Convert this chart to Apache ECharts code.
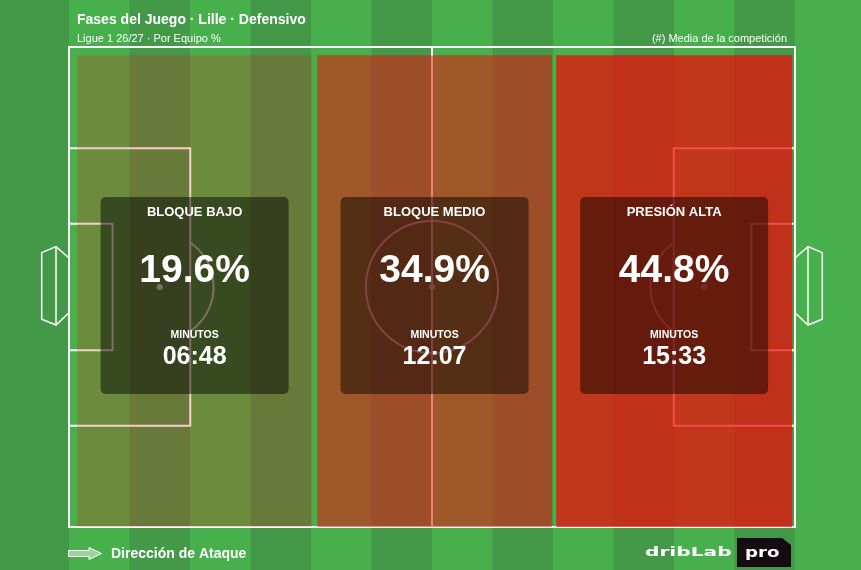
<!DOCTYPE html>
<html><head><meta charset="utf-8">
<script src="https://cdn.jsdelivr.net/npm/echarts@6/dist/echarts.min.js"></script>
<style>html,body{margin:0;padding:0;background:#47b04c}#c{width:861px;height:570px}</style>
</head><body><div id="c"></div>
<script>
// ---- data ----
const zoneLabels = ['BLOQUE BAJO', 'BLOQUE MEDIO', 'PRESIÓN ALTA'];
const zonePct = [19.6, 34.9, 44.8];
const zoneMinutes = ['06:48', '12:07', '15:33'];
const zoneStart = [1.1, 34.2, 67.1];   // pitch x (0-100) where each third begins
const zoneEnd = [33.5, 66.5, 99.6];    // pitch x where each third ends
const titleText = 'Fases del Juego · Lille · Defensivo';
const subtitleText = 'Ligue 1 26/27 · Por Equipo %';
const noteText = '(#) Media de la competición';
const attackText = 'Dirección de Ataque';
const stripeIndex = [-1, 0, 1, 2, 3, 4, 5, 6, 7, 8, 9, 10, 11, 12];

// ---- styles ----
const FONT = '"Liberation Sans", Arial, Helvetica, sans-serif';
const LIGHT = '#47b04c', DARK = '#439948';
const LINE = '#ffffff';
const ZONE_TOP = 98.3, ZONE_BOTTOM = 0;
const BOX_Y0 = 27.7, BOX_Y1 = 68.75, BOX_W = 188;
const P = { penX: 16.7, penY0: 21.1, penY1: 78.9, sixX: 6, sixY0: 36.8, sixY1: 63.2,
            spotX: 12.5, arcR: 7.4, centreR: 9.1,
            gLine0: 44.65, gLine1: 56.04, gMidX: -1.79, gMid0: 42.08, gMid1: 58.4,
            gBackX: -3.76, gBack0: 43.27, gBack1: 57.15 };
function alphaFor(v) { return Math.max(0, Math.min(1, (v - 9.4) / 48.5)); }

const chart = echarts.init(document.getElementById('c'), null, { renderer: 'canvas' });

function lineEl(api, a, b, w) {
  const p = api.coord(a), q = api.coord(b);
  return { type: 'line', shape: { x1: p[0], y1: p[1], x2: q[0], y2: q[1] },
           style: { stroke: LINE, lineWidth: w || 2 } };
}
function polyEl(api, pts, w, closed) {
  return { type: closed ? 'polygon' : 'polyline', shape: { points: pts.map(p => api.coord(p)) },
           style: { stroke: LINE, lineWidth: w || 2, fill: closed ? 'none' : null } };
}

const option = {
  animation: false,
  grid: { left: 69, right: 66, top: 47, bottom: 43 },
  xAxis: { type: 'value', min: 0, max: 100, show: false },
  yAxis: { type: 'value', min: 0, max: 100, show: false },
  series: [
    { // background stripes
      type: 'custom', clip: false, silent: true, z: 0,
      data: stripeIndex.map(k => [k]),
      renderItem(params, api) {
        const k = api.value(0), w = 100 / 12;
        let x0 = api.coord([k * w, 0])[0], x1 = api.coord([(k + 1) * w, 0])[0];
        if (k === stripeIndex[0]) x0 = 0;
        if (k === stripeIndex[stripeIndex.length - 1]) x1 = api.getWidth();
        return { type: 'rect', shape: { x: x0, y: 0, width: x1 - x0, height: api.getHeight() },
                 style: { fill: (k % 2 === 0) ? LIGHT : DARK } };
      }
    },
    { // pitch markings
      type: 'custom', clip: false, silent: true, z: 1,
      data: [[0]],
      renderItem(params, api) {
        const ch = [];
        ch.push(polyEl(api, [[0, 0], [100, 0], [100, 100], [0, 100]], 2, true));
        ch.push(lineEl(api, [50, 0], [50, 100]));
        [false, true].forEach(m => {
          const X = x => m ? 100 - x : x;
          ch.push(polyEl(api, [[X(0), P.penY1], [X(P.penX), P.penY1], [X(P.penX), P.penY0], [X(0), P.penY0]], 2));
          ch.push(polyEl(api, [[X(0), P.sixY1], [X(P.sixX), P.sixY1], [X(P.sixX), P.sixY0], [X(0), P.sixY0]], 2));
          const s = api.coord([X(P.spotX), 50]);
          ch.push({ type: 'circle', shape: { cx: s[0], cy: s[1], r: 3 }, style: { fill: LINE } });
          const r = api.size([P.arcR, 0])[0];
          const edge = api.coord([X(P.penX), 50])[0];
          const th = Math.acos(Math.abs(edge - s[0]) / r);
          ch.push({ type: 'arc', shape: { cx: s[0], cy: s[1], r: r,
                     startAngle: m ? Math.PI - th : -th, endAngle: m ? Math.PI + th : th, clockwise: true },
                    style: { stroke: LINE, lineWidth: 2, fill: null } });
          ch.push(polyEl(api, [[X(0), P.gLine1], [X(P.gMidX), P.gMid1], [X(P.gBackX), P.gBack1],
                               [X(P.gBackX), P.gBack0], [X(P.gMidX), P.gMid0], [X(0), P.gLine0]], 1.5));
          ch.push(lineEl(api, [X(P.gMidX), P.gMid1], [X(P.gMidX), P.gMid0], 1.5));
        });
        const c = api.coord([50, 50]);
        ch.push({ type: 'circle', shape: { cx: c[0], cy: c[1], r: api.size([P.centreR, 0])[0] },
                  style: { stroke: LINE, lineWidth: 2, fill: null } });
        ch.push({ type: 'circle', shape: { cx: c[0], cy: c[1], r: 3 }, style: { fill: LINE } });
        return { type: 'group', children: ch };
      }
    },
    { // zones with stat boxes
      type: 'custom', clip: false, silent: true, z: 2,
      data: zonePct.map((v, i) => [zoneStart[i], zoneEnd[i], v, i]),
      renderItem(params, api) {
        const i = api.value(3), v = api.value(2);
        const tl = api.coord([api.value(0), ZONE_TOP]);
        const br = api.coord([api.value(1), ZONE_BOTTOM]);
        const cx = (tl[0] + br[0]) / 2;
        const bt = api.coord([0, BOX_Y1])[1], bb = api.coord([0, BOX_Y0])[1];
        const txt = (t, y, size, weight) => ({ type: 'text', style: {
          text: t, x: cx, y: bt + y, fill: '#ffffff',
          font: weight + ' ' + size + 'px ' + FONT,
          align: 'center', verticalAlign: 'middle', textAlign: 'center', textVerticalAlign: 'middle' } });
        return { type: 'group', children: [
          { type: 'rect', shape: { x: tl[0], y: tl[1], width: br[0] - tl[0], height: br[1] - tl[1] },
            style: { fill: 'rgba(240,10,10,' + alphaFor(v).toFixed(3) + ')' } },
          { type: 'rect', shape: { x: cx - BOX_W / 2, y: bt, width: BOX_W, height: bb - bt, r: 5 },
            style: { fill: 'rgba(0,0,0,0.47)' } },
          txt(zoneLabels[i], 15, 13, 'bold'),
          txt(v.toFixed(1) + '%', 74, 39, 'bold'),
          txt('MINUTOS', 138, 10.5, 'bold'),
          txt(zoneMinutes[i], 160.5, 25, 'bold')
        ] };
      }
    }
  ],
  graphic: [
    { type: 'text', z: 10, style: { text: titleText, x: 77, y: 20, fill: '#fff', font: 'bold 14px ' + FONT, verticalAlign: 'middle', textVerticalAlign: 'middle' } },
    { type: 'text', z: 10, style: { text: subtitleText, x: 77, y: 38.5, fill: '#fff', font: '11px ' + FONT, verticalAlign: 'middle', textVerticalAlign: 'middle' } },
    { type: 'text', z: 10, style: { text: noteText, x: 787, y: 38.5, fill: '#fff', font: '11px ' + FONT, align: 'right', textAlign: 'right', verticalAlign: 'middle', textVerticalAlign: 'middle' } },
    { type: 'polygon', z: 10, shape: { points: [[68.5, 550.5], [89, 550.5], [89, 547.5], [101.5, 553.5], [89, 559.5], [89, 556.5], [68.5, 556.5]] },
      style: { fill: 'rgba(255,255,255,0.45)', stroke: '#fff', lineWidth: 1 } },
    { type: 'text', z: 10, style: { text: attackText, x: 111, y: 554, fill: '#fff', font: 'bold 14px ' + FONT, verticalAlign: 'middle', textVerticalAlign: 'middle' } },
    { type: 'text', z: 10, x: 645, y: 553, scaleX: 1.55, style: { text: 'dribLab', x: 0, y: 0, fill: '#fff', font: 'bold 13px "DejaVu Sans", sans-serif', verticalAlign: 'middle', textVerticalAlign: 'middle' } },
    { type: 'polygon', z: 10, shape: { points: [[737, 538], [782, 538], [791, 545], [791, 567], [737, 567]] }, style: { fill: '#140c10' } },
    { type: 'text', z: 11, x: 745, y: 553, scaleX: 1.3, style: { text: 'pro', x: 0, y: 0, fill: '#fff', font: 'bold 14px "DejaVu Sans", sans-serif', verticalAlign: 'middle', textVerticalAlign: 'middle' } }
  ]
};
chart.setOption(option);
</script>
</body></html>
